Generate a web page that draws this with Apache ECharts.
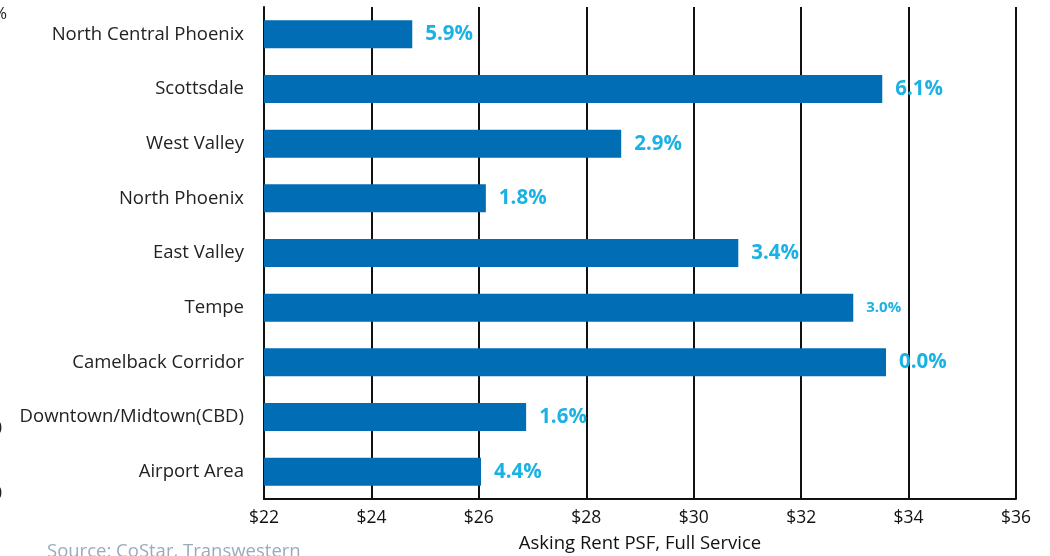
<!DOCTYPE html>
<html>
<head>
<meta charset="utf-8">
<script src="https://cdn.jsdelivr.net/npm/echarts@6/dist/echarts.min.js"></script>
<style>
html,body{margin:0;padding:0;background:#fff;}
#chart{width:1050px;height:556px;}
</style>
</head>
<body>
<div id="chart"></div>
<script>
const categories = ["North Central Phoenix","Scottsdale","West Valley","North Phoenix","East Valley","Tempe","Camelback Corridor","Downtown/Midtown(CBD)","Airport Area"];
const askingRent = [24.76, 33.51, 28.65, 26.13, 30.83, 32.97, 33.58, 26.88, 26.04];
const changeLabels = ["5.9%","6.1%","2.9%","1.8%","3.4%","3.0%","0.0%","1.6%","4.4%"];
const xTicks = [22, 24, 26, 28, 30, 32, 34, 36];

const chart = echarts.init(document.getElementById('chart'));
const font = '"Open Sans", "Noto Sans", sans-serif';
chart.setOption({
  animation: false,
  grid: {left: 264, right: 34, top: 7, bottom: 57, containLabel: false, outerBoundsMode: 'none'},
  xAxis: {
    type: 'value', min: xTicks[0], max: xTicks[xTicks.length-1], interval: 2,
    name: 'Asking Rent PSF, Full Service', nameLocation: 'middle', nameGap: 35,
    nameTextStyle: {fontFamily: font, fontSize: 18.5, color: '#111'},
    axisLine: {show: true, lineStyle: {color: '#111', width: 2}},
    axisTick: {show: false},
    splitLine: {show: true, lineStyle: {color: '#111', width: 2}},
    axisLabel: {formatter: v => '$' + v, fontFamily: font, fontSize: 17.5, color: '#111', margin: 10}
  },
  yAxis: {
    type: 'category', data: categories, inverse: true,
    axisLine: {show: true, lineStyle: {color: '#111', width: 2}},
    axisTick: {show: false},
    axisLabel: {fontFamily: font, fontSize: 18.5, color: '#222', margin: 20}
  },
  series: [{
    type: 'bar', barWidth: 28,
    data: askingRent.map((v, i) => ({
      value: v,
      label: {
        show: true, position: 'right', distance: 13,
        formatter: changeLabels[i],
        fontFamily: font, fontWeight: 'bold',
        fontSize: i === 5 ? 15 : 20.5, color: '#1ab2e4'
      }
    })),
    itemStyle: {color: '#006db5'}
  }],
  graphic: [
    {type: 'text', left: 47, top: 542, style: {text: 'Source: CoStar, Transwestern', font: '18.5px ' + font, fill: '#9aabbd'}},
    {type: 'text', left: -7, top: 6, style: {text: '%', font: '17px ' + font, fill: '#222'}},
    {type: 'text', left: -8, top: 420, style: {text: '0', font: '18px ' + font, fill: '#222'}},
    {type: 'text', left: -8, top: 485, style: {text: '0', font: '18px ' + font, fill: '#222'}}
  ]
});
</script>
</body>
</html>
